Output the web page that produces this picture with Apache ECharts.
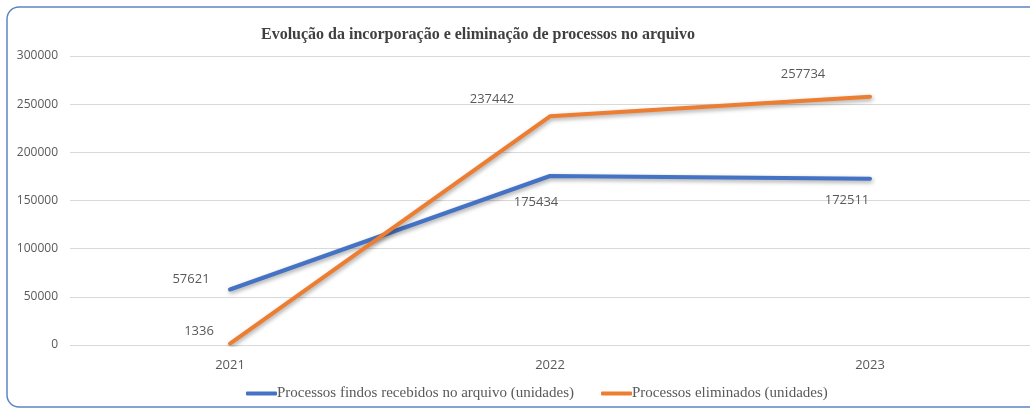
<!DOCTYPE html>
<html>
<head>
<meta charset="utf-8">
<script src="https://cdn.jsdelivr.net/npm/echarts@6/dist/echarts.min.js"></script>
<style>
  html, body { margin: 0; padding: 0; background: #fff; }
  #chart { width: 1030px; height: 412px; }
</style>
</head>
<body>
<div id="chart"></div>
<script>
// Anos
const years = ['2021', '2022', '2023'];
// Processos findos recebidos no arquivo (unidades)
const recebidos = [57621, 175434, 172511];
// Processos eliminados (unidades)
const eliminados = [1336, 237442, 257734];
// Rótulos dos valores: deslocamento em relação ao ponto
const recebidosOffsets = [[-39, -10], [-14, 26], [-23, 21]];
const eliminadosOffsets = [[-31, -12], [-58, -17], [-67, -22]];

const seriesNames = [
  'Processos findos recebidos no arquivo (unidades)',
  'Processos eliminados (unidades)'
];

const labelStyle = {
  show: true,
  position: 'inside',
  color: '#595959',
  fontSize: 13,
  fontFamily: 'Open Sans, Noto Sans, sans-serif'
};

function pointData(values, offsets) {
  return values.map((v, i) => ({
    value: v,
    label: Object.assign({}, labelStyle, { offset: offsets[i] })
  }));
}

function lineSeries(name, color, values, offsets) {
  return {
    name: name,
    type: 'line',
    data: pointData(values, offsets),
    symbol: 'circle',
    symbolSize: 0,
    showSymbol: true,
    itemStyle: { color: color },
    lineStyle: {
      color: color,
      width: 4,
      cap: 'round',
      join: 'round',
      shadowColor: 'rgba(0,0,0,0.35)',
      shadowBlur: 4,
      shadowOffsetX: 1,
      shadowOffsetY: 2
    },
    emphasis: { disabled: true },
    animation: false
  };
}

const chart = echarts.init(document.getElementById('chart'), null, { renderer: 'canvas' });

chart.setOption({
  backgroundColor: '#ffffff',
  animation: false,
  graphic: [{
    type: 'rect',
    shape: { x: 7, y: 7, width: 1080, height: 400, r: 12 },
    style: { fill: 'none', stroke: '#5b86c3', lineWidth: 1.5 },
    silent: true,
    z: 100
  }],
  title: {
    text: 'Evolução da incorporação e eliminação de processos no arquivo',
    left: 473,
    top: 22,
    textAlign: 'center',
    textStyle: {
      fontFamily: 'Liberation Serif, DejaVu Serif, serif',
      fontSize: 16,
      fontWeight: 'bold',
      color: '#404040'
    }
  },
  legend: {
    data: seriesNames.map((n, i) => ({
      name: n,
      icon: 'roundRect',
      itemStyle: { color: i === 0 ? '#4472c4' : '#ed7d31' }
    })),
    bottom: 6,
    left: 241,
    itemWidth: 31,
    itemHeight: 4,
    itemGap: 27,
    textStyle: {
      fontFamily: 'Liberation Serif, DejaVu Serif, serif',
      fontSize: 15,
      color: '#595959',
      padding: [0, 0, 0, -5]
    }
  },
  grid: {
    left: 70,
    right: 0,
    top: 56,
    bottom: 67,
    containLabel: false
  },
  xAxis: {
    type: 'category',
    data: years,
    boundaryGap: true,
    axisLine: { show: false },
    axisTick: { show: false },
    axisLabel: {
      color: '#595959',
      fontSize: 13,
      margin: 14,
      fontFamily: 'Open Sans, Noto Sans, sans-serif'
    }
  },
  yAxis: {
    type: 'value',
    min: 0,
    max: 300000,
    interval: 50000,
    axisLine: { show: false },
    axisTick: { show: false },
    axisLabel: {
      color: '#595959',
      fontSize: 12,
      margin: 12,
      fontFamily: 'Open Sans, Noto Sans, sans-serif',
      formatter: v => String(v)
    },
    splitLine: { lineStyle: { color: '#d9d9d9', width: 1 } }
  },
  series: [
    lineSeries(seriesNames[0], '#4472c4', recebidos, recebidosOffsets),
    lineSeries(seriesNames[1], '#ed7d31', eliminados, eliminadosOffsets)
  ]
});
</script>
</body>
</html>
